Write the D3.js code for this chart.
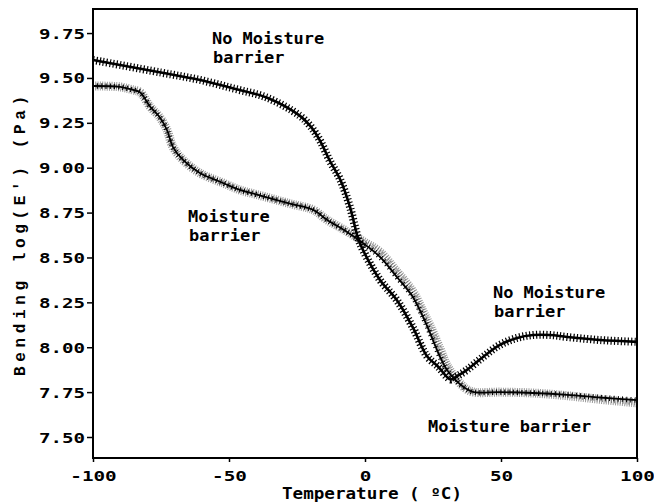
<!DOCTYPE html>
<html>
<head>
<meta charset="utf-8">
<script src="https://cdn.jsdelivr.net/npm/d3@7"></script>
<style>
  body { margin: 0; background: #fff; }
  svg { display: block; }
  .tick text { font-family: "DejaVu Sans Mono", monospace; font-weight: bold; font-size: 14px; fill: #000; }
  .note { font-family: "DejaVu Sans Mono", monospace; font-weight: bold; font-size: 15px; fill: #000; }
</style>
</head>
<body>
<div id="chart"></div>
<script>
// values
const xTicks = [-100, -50, 0, 50, 100];
const yTicks = [7.5, 7.75, 8.0, 8.25, 8.5, 8.75, 9.0, 9.25, 9.5, 9.75];

// no moisture barrier (black, + markers)
const tempNoBarrier = [-100, -75, -61, -48, -36, -24, -20, -16.5, -13, -9, -5.5, -2.6, -0.7, 5.5, 11.8, 17.6, 22.8, 27, 30.1, 31.5, 34, 37.5, 43.4, 49.6, 55.9, 61.8, 68, 74.3, 86.4, 100];
const logNoBarrier = [9.60, 9.53, 9.49, 9.44, 9.39, 9.29, 9.23, 9.15, 9.04, 8.93, 8.78, 8.61, 8.54, 8.375, 8.26, 8.11, 7.95, 7.89, 7.835, 7.82, 7.84, 7.874, 7.946, 8.013, 8.052, 8.068, 8.068, 8.057, 8.04, 8.03];

// moisture barrier (black trace, x markers)
const tempBarrier = [-100, -90, -85.3, -82.7, -79, -75.4, -72.8, -70.6, -66.9, -60.7, -52.2, -46, -39.7, -27.6, -19, -14, -6.6, -0.7, 5.5, 11.8, 17.6, 21.3, 23.9, 27.6, 30.1, 33.8, 37, 40, 49.6, 61.8, 74.3, 86.4, 100];
const logBarrier = [9.455, 9.45, 9.433, 9.42, 9.34, 9.28, 9.21, 9.115, 9.043, 8.97, 8.915, 8.876, 8.85, 8.80, 8.765, 8.71, 8.642, 8.58, 8.503, 8.39, 8.28, 8.17, 8.08, 7.946, 7.874, 7.81, 7.77, 7.75, 7.75, 7.745, 7.735, 7.72, 7.705];

// moisture barrier (grey stippled trace)
const tempBarrierGrey = [-100, -90, -85.3, -82.7, -79, -75.4, -72.8, -70.6, -66.9, -60.7, -52.2, -46, -39.7, -27.6, -19, -14, -6.6, -0.7, 5.5, 11.8, 17.6, 21.3, 23.9, 27.6, 30.1, 33.8, 37, 40, 49.6, 61.8, 74.3, 86.4, 100];
const logBarrierGrey = [9.455, 9.45, 9.433, 9.42, 9.34, 9.28, 9.21, 9.115, 9.043, 8.97, 8.915, 8.876, 8.85, 8.80, 8.765, 8.71, 8.645, 8.59, 8.53, 8.42, 8.31, 8.20, 8.12, 7.99, 7.90, 7.82, 7.77, 7.75, 7.75, 7.745, 7.73, 7.71, 7.69];

const width = 654;
const height = 504;
const plotLeft = 93, plotRight = 637, plotTop = 9, plotBottom = 458;

const svg = d3.select('#chart').append('svg').attr('width', width).attr('height', height);

const x = d3.scaleLinear().domain([-100, 100]).range([plotLeft, plotRight]);
const y = d3.scaleLinear().domain([7.383, 9.884]).range([plotBottom, plotTop]);

const zip = (ts, vs) => ts.map((t, i) => [t, vs[i]]);
const line = d3
  .line()
  .x((d) => x(d[0]))
  .y((d) => y(d[1]))
  .curve(d3.curveCatmullRom.alpha(0.5));

const plot = svg.append('g');

// grey stippled band
const greyPath = line(zip(tempBarrierGrey, logBarrierGrey));
plot
  .append('path')
  .attr('d', greyPath)
  .attr('fill', 'none')
  .attr('stroke', '#9a9a9a')
  .attr('stroke-width', 9)
  .attr('stroke-dasharray', '1 1.3');
plot
  .append('path')
  .attr('d', greyPath)
  .attr('fill', 'none')
  .attr('stroke', '#6e6e6e')
  .attr('stroke-width', 5)
  .attr('stroke-dasharray', '0.8 2.1');

// moisture barrier black trace
const barrierPath = line(zip(tempBarrier, logBarrier));
plot.append('path').attr('d', barrierPath).attr('fill', 'none').attr('stroke', '#000').attr('stroke-width', 1.8);
plot
  .append('path')
  .attr('d', barrierPath)
  .attr('fill', 'none')
  .attr('stroke', '#000')
  .attr('stroke-width', 5.5)
  .attr('stroke-dasharray', '1 3.2');

// no moisture barrier
const noBarrierPath = line(zip(tempNoBarrier, logNoBarrier));
plot.append('path').attr('d', noBarrierPath).attr('fill', 'none').attr('stroke', '#000').attr('stroke-width', 2.6);
plot
  .append('path')
  .attr('d', noBarrierPath)
  .attr('fill', 'none')
  .attr('stroke', '#000')
  .attr('stroke-width', 8)
  .attr('stroke-dasharray', '1.2 2.2');

// frame
svg
  .append('rect')
  .attr('x', plotLeft)
  .attr('y', plotTop)
  .attr('width', plotRight - plotLeft)
  .attr('height', plotBottom - plotTop)
  .attr('fill', 'none')
  .attr('stroke', '#000')
  .attr('stroke-width', 2);

const yAxis = svg
  .append('g')
  .attr('transform', `translate(${plotLeft},0)`)
  .call(d3.axisLeft(y).tickValues(yTicks).tickSize(6).tickPadding(2).tickFormat(d3.format('.2f')));
yAxis.select('.domain').remove();
yAxis.selectAll('.tick line').attr('stroke', '#000').attr('stroke-width', 1.5);
yAxis
  .selectAll('.tick text')
  .attr('dy', '0.36em')
  .attr('textLength', 46)
  .attr('lengthAdjust', 'spacingAndGlyphs');

const xAxis = svg
  .append('g')
  .attr('transform', `translate(0,${plotBottom})`)
  .call(d3.axisBottom(x).tickValues(xTicks).tickSize(4).tickPadding(9).tickFormat((d) => String(d)));
xAxis.select('.domain').remove();
xAxis.selectAll('.tick line').attr('stroke', '#000').attr('stroke-width', 1.5);
xAxis
  .selectAll('.tick text')
  .attr('textLength', (d) => String(d).length * 11.6)
  .attr('lengthAdjust', 'spacingAndGlyphs');

// axis titles
svg
  .append('text')
  .attr('x', 372)
  .attr('y', 499)
  .attr('text-anchor', 'middle')
  .attr('font-family', '"DejaVu Sans Mono", monospace')
  .attr('font-weight', 'bold')
  .attr('font-size', 15)
  .attr('textLength', 180)
  .attr('lengthAdjust', 'spacingAndGlyphs')
  .text('Temperature ( ºC)');

svg
  .append('text')
  .attr('transform', 'translate(25,236) rotate(-90)')
  .attr('text-anchor', 'middle')
  .attr('font-family', '"Liberation Mono", monospace')
  .attr('font-weight', 'bold')
  .attr('font-size', 16)
  .attr('textLength', 280)
  .attr('lengthAdjust', 'spacing')
  .text("Bending log(E') (Pa)");

// curve annotations
const notes = [
  { lines: ['No Moisture', 'barrier'], x: 212, y: 44, gap: 19 },
  { lines: ['Moisture', 'barrier'], x: 188, y: 222, gap: 19 },
  { lines: ['No Moisture', 'barrier'], x: 493, y: 298, gap: 19 },
  { lines: ['Moisture barrier'], x: 428, y: 432, gap: 0 }
];
notes.forEach((n) => {
  n.lines.forEach((t, i) => {
    svg
      .append('text')
      .attr('class', 'note')
      .attr('x', n.x + (i ? 1 : 0))
      .attr('y', n.y + i * n.gap)
      .attr('textLength', t.length * 10.2)
      .attr('lengthAdjust', 'spacingAndGlyphs')
      .text(t);
  });
});
</script>
</body>
</html>
